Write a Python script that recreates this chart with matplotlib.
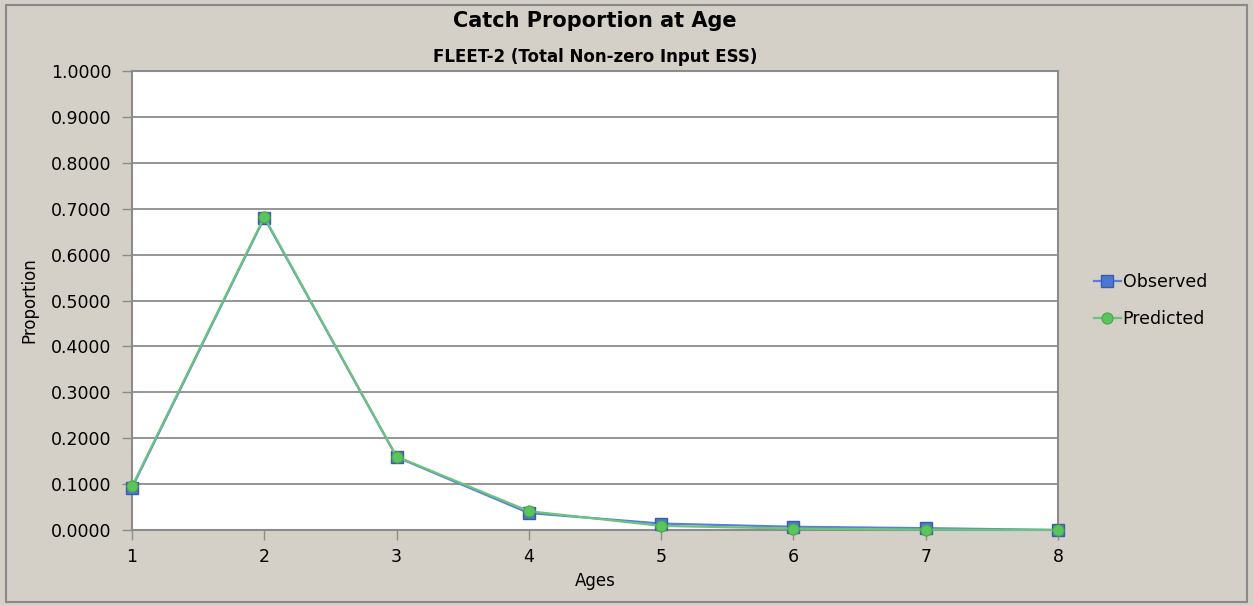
import matplotlib
matplotlib.use("Agg")
import matplotlib.pyplot as plt
from matplotlib.patches import Rectangle
from matplotlib.ticker import FormatStrFormatter

ages = [1, 2, 3, 4, 5, 6, 7, 8]
observed = [0.092, 0.680, 0.159, 0.037, 0.014, 0.007, 0.004, 0.000]
predicted = [0.095, 0.682, 0.160, 0.041, 0.009, 0.003, 0.001, 0.000]
yticks = [0.0, 0.1, 0.2, 0.3, 0.4, 0.5, 0.6, 0.7, 0.8, 0.9, 1.0]

bg = "#D4D0C8"
plt.rcParams["font.family"] = ["DejaVu Sans"]

fig = plt.figure(figsize=(12.53, 6.05), dpi=100, facecolor=bg)
fig.patches.append(Rectangle((6 / 1253, 3 / 605), 1 - 12 / 1253, 1 - 8 / 605,
                             transform=fig.transFigure, fill=False,
                             edgecolor="#8a8a8a", linewidth=1.5))
ax = fig.add_axes([132 / 1253, 1 - 530 / 605, (1058 - 132) / 1253, (530 - 71) / 605])
ax.set_facecolor("white")

ax.plot(ages, observed, color="#5B7FD6", linewidth=1.6, marker="s", markersize=9,
        markerfacecolor="#4A78D0", markeredgecolor="#3A5BB0", markeredgewidth=1,
        label="Observed", zorder=3, clip_on=False)
ax.plot(ages, predicted, color="#6CC47C", linewidth=1.6, marker="o", markersize=8,
        markerfacecolor="#5CC45C", markeredgecolor="#48A848", markeredgewidth=0.8,
        label="Predicted", zorder=4, clip_on=False)

ax.set_xlim(1, 8)
ax.set_ylim(0, 1)
ax.set_yticks(yticks)
ax.yaxis.set_major_formatter(FormatStrFormatter("%.4f"))
ax.set_xticks(ages)
ax.grid(axis="y", color="#8c8c8c", linewidth=1.3)
ax.set_axisbelow(True)
for s in ax.spines.values():
    s.set_color("#8c8c8c")
    s.set_linewidth(1.5)
ax.tick_params(axis="both", colors="#8c8c8c", labelcolor="black", labelsize=12.5,
               length=7, width=1)
ax.tick_params(axis="y", pad=8)
ax.tick_params(axis="x", pad=6)

ax.set_xlabel("Ages", fontsize=12, labelpad=4)
ax.set_ylabel("Proportion", fontsize=12, labelpad=9)

fig.text(595 / 1253, 1 - 21 / 605, "Catch Proportion at Age", ha="center", va="center",
         fontsize=15, fontweight="bold")
fig.text(595 / 1253, 1 - 57 / 605, "FLEET-2 (Total Non-zero Input ESS)", ha="center",
         va="center", fontsize=12, fontweight="bold")

leg = ax.legend(loc="center left", bbox_to_anchor=(1.022, 0.50), frameon=False,
                fontsize=12.5, handlelength=1.55, handletextpad=0.1, labelspacing=1.1)
for h in leg.legend_handles:
    h.set_markersize(8)

fig.savefig("out.png", dpi=100, facecolor=bg)
